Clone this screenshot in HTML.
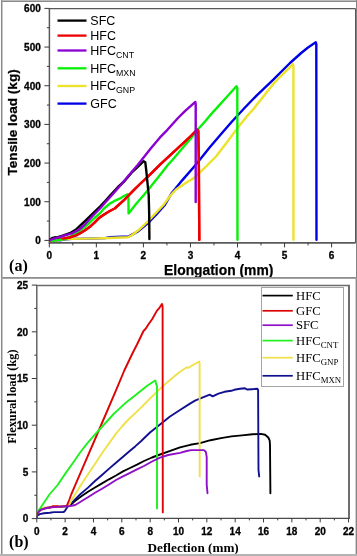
<!DOCTYPE html>
<html><head><meta charset="utf-8"><title>Tensile and flexural load curves</title>
<style>
html,body{margin:0;padding:0;background:#fff;width:357px;height:556px;overflow:hidden;}
svg{display:block;will-change:transform;}

</style></head><body>
<svg width="357" height="556" viewBox="0 0 357 556">
<defs><clipPath id="clipT"><rect x="49.4" y="0.0" width="306.1" height="242.4"/></clipPath><clipPath id="clipB"><rect x="36.8" y="285.4" width="312.2" height="233.0"/></clipPath></defs>
<rect x="0" y="0" width="357" height="556" fill="#fff"/>
<line x1="49.40" y1="8.60" x2="49.40" y2="242.90" stroke="#5a5a5a" stroke-width="1.5"/>
<line x1="48.70" y1="8.60" x2="355.50" y2="8.60" stroke="#5a5a5a" stroke-width="1.4"/>
<line x1="48.70" y1="242.90" x2="355.50" y2="242.90" stroke="#5a5a5a" stroke-width="1.6"/>
<line x1="355.50" y1="8.60" x2="355.50" y2="242.90" stroke="#555" stroke-width="1.0"/>
<line x1="44.40" y1="240.40" x2="49.40" y2="240.40" stroke="#3a3a3a" stroke-width="1"/>
<text x="40.80" y="244.40" font-family='"Liberation Sans", sans-serif' font-size="10" font-weight="bold" text-anchor="end" fill="#000" stroke="#000" stroke-width="0.3">0</text>
<line x1="46.90" y1="221.07" x2="49.40" y2="221.07" stroke="#3a3a3a" stroke-width="1"/>
<line x1="44.40" y1="201.73" x2="49.40" y2="201.73" stroke="#3a3a3a" stroke-width="1"/>
<text x="40.80" y="205.73" font-family='"Liberation Sans", sans-serif' font-size="10" font-weight="bold" text-anchor="end" fill="#000" stroke="#000" stroke-width="0.3">100</text>
<line x1="46.90" y1="182.40" x2="49.40" y2="182.40" stroke="#3a3a3a" stroke-width="1"/>
<line x1="44.40" y1="163.07" x2="49.40" y2="163.07" stroke="#3a3a3a" stroke-width="1"/>
<text x="40.80" y="167.07" font-family='"Liberation Sans", sans-serif' font-size="10" font-weight="bold" text-anchor="end" fill="#000" stroke="#000" stroke-width="0.3">200</text>
<line x1="46.90" y1="143.73" x2="49.40" y2="143.73" stroke="#3a3a3a" stroke-width="1"/>
<line x1="44.40" y1="124.40" x2="49.40" y2="124.40" stroke="#3a3a3a" stroke-width="1"/>
<text x="40.80" y="128.40" font-family='"Liberation Sans", sans-serif' font-size="10" font-weight="bold" text-anchor="end" fill="#000" stroke="#000" stroke-width="0.3">300</text>
<line x1="46.90" y1="105.07" x2="49.40" y2="105.07" stroke="#3a3a3a" stroke-width="1"/>
<line x1="44.40" y1="85.73" x2="49.40" y2="85.73" stroke="#3a3a3a" stroke-width="1"/>
<text x="40.80" y="89.73" font-family='"Liberation Sans", sans-serif' font-size="10" font-weight="bold" text-anchor="end" fill="#000" stroke="#000" stroke-width="0.3">400</text>
<line x1="46.90" y1="66.40" x2="49.40" y2="66.40" stroke="#3a3a3a" stroke-width="1"/>
<line x1="44.40" y1="47.06" x2="49.40" y2="47.06" stroke="#3a3a3a" stroke-width="1"/>
<text x="40.80" y="51.06" font-family='"Liberation Sans", sans-serif' font-size="10" font-weight="bold" text-anchor="end" fill="#000" stroke="#000" stroke-width="0.3">500</text>
<line x1="46.90" y1="27.73" x2="49.40" y2="27.73" stroke="#3a3a3a" stroke-width="1"/>
<line x1="44.40" y1="8.40" x2="49.40" y2="8.40" stroke="#3a3a3a" stroke-width="1"/>
<text x="40.80" y="12.40" font-family='"Liberation Sans", sans-serif' font-size="10" font-weight="bold" text-anchor="end" fill="#000" stroke="#000" stroke-width="0.3">600</text>
<line x1="49.30" y1="242.90" x2="49.30" y2="247.40" stroke="#3a3a3a" stroke-width="1"/>
<text x="49.30" y="258.60" font-family='"Liberation Sans", sans-serif' font-size="10" font-weight="bold" text-anchor="middle" fill="#000" stroke="#000" stroke-width="0.3">0</text>
<line x1="72.82" y1="242.90" x2="72.82" y2="245.40" stroke="#3a3a3a" stroke-width="1"/>
<line x1="96.35" y1="242.90" x2="96.35" y2="247.40" stroke="#3a3a3a" stroke-width="1"/>
<text x="96.35" y="258.60" font-family='"Liberation Sans", sans-serif' font-size="10" font-weight="bold" text-anchor="middle" fill="#000" stroke="#000" stroke-width="0.3">1</text>
<line x1="119.87" y1="242.90" x2="119.87" y2="245.40" stroke="#3a3a3a" stroke-width="1"/>
<line x1="143.40" y1="242.90" x2="143.40" y2="247.40" stroke="#3a3a3a" stroke-width="1"/>
<text x="143.40" y="258.60" font-family='"Liberation Sans", sans-serif' font-size="10" font-weight="bold" text-anchor="middle" fill="#000" stroke="#000" stroke-width="0.3">2</text>
<line x1="166.93" y1="242.90" x2="166.93" y2="245.40" stroke="#3a3a3a" stroke-width="1"/>
<line x1="190.45" y1="242.90" x2="190.45" y2="247.40" stroke="#3a3a3a" stroke-width="1"/>
<text x="190.45" y="258.60" font-family='"Liberation Sans", sans-serif' font-size="10" font-weight="bold" text-anchor="middle" fill="#000" stroke="#000" stroke-width="0.3">3</text>
<line x1="213.97" y1="242.90" x2="213.97" y2="245.40" stroke="#3a3a3a" stroke-width="1"/>
<line x1="237.50" y1="242.90" x2="237.50" y2="247.40" stroke="#3a3a3a" stroke-width="1"/>
<text x="237.50" y="258.60" font-family='"Liberation Sans", sans-serif' font-size="10" font-weight="bold" text-anchor="middle" fill="#000" stroke="#000" stroke-width="0.3">4</text>
<line x1="261.02" y1="242.90" x2="261.02" y2="245.40" stroke="#3a3a3a" stroke-width="1"/>
<line x1="284.55" y1="242.90" x2="284.55" y2="247.40" stroke="#3a3a3a" stroke-width="1"/>
<text x="284.55" y="258.60" font-family='"Liberation Sans", sans-serif' font-size="10" font-weight="bold" text-anchor="middle" fill="#000" stroke="#000" stroke-width="0.3">5</text>
<line x1="308.07" y1="242.90" x2="308.07" y2="245.40" stroke="#3a3a3a" stroke-width="1"/>
<line x1="331.60" y1="242.90" x2="331.60" y2="247.40" stroke="#3a3a3a" stroke-width="1"/>
<text x="331.60" y="258.60" font-family='"Liberation Sans", sans-serif' font-size="10" font-weight="bold" text-anchor="middle" fill="#000" stroke="#000" stroke-width="0.3">6</text>
<text x="0.00" y="0.00" font-family='"Liberation Sans", sans-serif' font-size="13.6" font-weight="bold" text-anchor="middle" fill="#000" stroke="#000" stroke-width="0.25" transform="translate(16.6,122.4) rotate(-90)">Tensile load (kg)</text>
<text x="218.70" y="274.50" font-family='"Liberation Sans", sans-serif' font-size="13.85" font-weight="bold" text-anchor="middle" fill="#000" stroke="#000" stroke-width="0.25">Elongation (mm)</text>
<text x="9.10" y="270.80" font-family='"Liberation Serif", serif' font-size="16" font-weight="bold" text-anchor="start" fill="#000">(a)</text>
<line x1="57.50" y1="20.60" x2="86.50" y2="20.60" stroke="#000000" stroke-width="2.3"/>
<text x="90.30" y="25.10" font-family='"Liberation Sans", sans-serif' font-size="12.5" font-weight="normal" text-anchor="start" fill="#000">SFC</text>
<line x1="57.50" y1="35.60" x2="86.50" y2="35.60" stroke="#ee0000" stroke-width="2.3"/>
<text x="90.30" y="39.70" font-family='"Liberation Sans", sans-serif' font-size="12.5" font-weight="normal" text-anchor="start" fill="#000">HFC</text>
<line x1="57.50" y1="50.50" x2="86.50" y2="50.50" stroke="#8c00d2" stroke-width="2.3"/>
<text x="90.3" y="55.4" font-family='"Liberation Sans", sans-serif' font-size="12.5">HFC<tspan font-size="8.8" dy="2.8">CNT</tspan></text>
<line x1="57.50" y1="68.30" x2="86.50" y2="68.30" stroke="#08f008" stroke-width="2.3"/>
<text x="90.3" y="72.7" font-family='"Liberation Sans", sans-serif' font-size="12.5">HFC<tspan font-size="8.8" dy="2.8">MXN</tspan></text>
<line x1="57.50" y1="86.00" x2="86.50" y2="86.00" stroke="#ece22a" stroke-width="2.3"/>
<text x="90.3" y="90.4" font-family='"Liberation Sans", sans-serif' font-size="12.5">HFC<tspan font-size="8.8" dy="2.8">GNP</tspan></text>
<line x1="57.50" y1="103.60" x2="86.50" y2="103.60" stroke="#0000e6" stroke-width="2.3"/>
<text x="90.30" y="108.10" font-family='"Liberation Sans", sans-serif' font-size="12.5" font-weight="normal" text-anchor="start" fill="#000">GFC</text>
<g clip-path="url(#clipT)">
<polyline points="49.2,240.6 60.0,240.4 66.0,239.4 72.0,238.9 90.0,238.6 105.0,238.1 110.0,237.2 128.6,236.5 132.0,234.6 138.4,231.2 147.4,223.6 156.4,214.5 165.0,204.6 171.2,193.8 182.4,180.1 193.6,167.2 199.2,160.5 210.0,147.0 222.0,133.0 231.8,121.7 244.5,108.0 256.8,95.3 273.6,79.4 290.0,63.0 301.2,53.0 308.0,47.5 315.8,42.3 316.3,44.0 316.5,239.8" fill="none" stroke="#0000e6" stroke-width="2.4" stroke-linejoin="round" stroke-linecap="round"/>
<polyline points="49.2,240.4 58.0,240.3 64.0,239.4 70.0,238.9 90.0,238.6 110.0,238.0 128.0,237.3 131.7,235.2 138.4,230.3 147.4,221.9 156.4,212.4 163.4,205.0 171.2,194.5 176.0,189.5 182.4,185.2 188.0,181.5 193.6,178.4 199.2,173.1 207.0,165.5 216.0,156.5 226.4,143.0 236.7,129.1 246.5,116.8 254.4,108.0 256.8,104.8 265.0,94.5 273.6,83.6 280.0,77.0 287.0,70.1 292.9,64.2 293.4,66.0 293.5,239.8" fill="none" stroke="#ece22a" stroke-width="2.4" stroke-linejoin="round" stroke-linecap="round"/>
<polyline points="49.2,240.6 55.0,239.8 62.8,238.6 69.3,237.5 76.0,235.4 79.8,233.4 84.7,230.5 89.6,227.1 94.5,222.7 99.4,217.7 104.5,214.2 109.8,211.0 114.7,208.5 124.5,199.7 135.0,188.9 140.0,184.0 150.0,174.6 160.0,164.6 170.0,155.3 180.0,146.1 190.0,136.8 195.0,131.9 197.5,129.5 198.3,131.0 198.8,160.0 199.3,239.8" fill="none" stroke="#ee0000" stroke-width="2.4" stroke-linejoin="round" stroke-linecap="round"/>
<polyline points="51.7,240.8 55.0,240.3 59.2,239.9 63.0,239.4 67.0,238.3 70.0,237.0 74.0,234.6 76.0,233.3 80.2,230.4 84.7,227.0 89.6,222.6 94.5,218.0 100.0,213.2 104.0,208.5 109.8,203.6 114.0,201.2 119.6,198.7 124.0,196.0 127.5,194.3 128.4,196.0 128.6,213.4 136.4,203.5 143.9,195.0 150.0,187.5 160.0,175.1 167.8,165.0 172.4,160.0 180.0,151.0 190.0,139.5 197.8,129.5 205.0,121.5 210.4,115.0 216.2,108.6 227.4,96.3 236.4,86.2 237.3,88.0 237.5,239.8" fill="none" stroke="#08f008" stroke-width="2.4" stroke-linejoin="round" stroke-linecap="round"/>
<polyline points="62.8,238.6 69.3,237.5 76.0,235.4 79.8,233.4 84.7,230.5 89.6,227.1 94.5,222.7 99.4,217.7 104.5,214.2 109.8,211.0 114.7,208.5 124.5,199.7 135.0,188.9 140.0,184.0 150.0,174.6 160.0,164.6 170.0,155.3 180.0,146.1 190.0,136.8 195.0,131.9 197.5,129.5 198.3,131.0 198.8,160.0 199.3,239.8" fill="none" stroke="#ee0000" stroke-width="2.4" stroke-linejoin="round" stroke-linecap="round"/>
<polyline points="49.2,240.0 52.7,237.8 55.0,237.3 57.0,237.5 62.8,235.6 70.4,233.0 76.0,229.5 79.8,225.8 84.7,221.3 89.6,216.6 94.5,211.8 100.0,206.6 105.0,201.3 111.0,194.5 118.0,187.0 124.6,181.0 132.4,171.8 139.1,165.6 143.6,161.2 145.3,162.3 146.4,171.8 147.5,183.0 148.7,195.0 149.2,215.0 149.4,239.0" fill="none" stroke="#000000" stroke-width="2.4" stroke-linejoin="round" stroke-linecap="round"/>
<polyline points="49.4,240.2 55.0,238.4 63.4,235.9 71.8,233.3 78.5,230.0 81.5,227.5 85.0,224.3 89.6,219.2 94.5,214.0 100.0,208.5 105.0,202.8 112.0,195.0 120.6,185.3 128.0,176.3 137.9,164.8 150.7,148.6 160.0,137.4 167.4,129.8 172.6,124.0 178.0,118.0 185.2,110.8 190.3,106.3 195.3,101.9 195.7,104.0 195.7,202.0" fill="none" stroke="#8c00d2" stroke-width="2.4" stroke-linejoin="round" stroke-linecap="round"/>
</g>
<line x1="36.80" y1="285.40" x2="36.80" y2="518.40" stroke="#5a5a5a" stroke-width="1.4"/>
<line x1="36.10" y1="285.40" x2="350.00" y2="285.40" stroke="#6c6c6c" stroke-width="1.5"/>
<line x1="36.10" y1="518.40" x2="350.00" y2="518.40" stroke="#4a4a4a" stroke-width="1.3"/>
<line x1="349.00" y1="285.40" x2="349.00" y2="518.40" stroke="#6e6e6e" stroke-width="2.0"/>
<line x1="31.80" y1="518.60" x2="36.80" y2="518.60" stroke="#3a3a3a" stroke-width="1"/>
<text x="28.20" y="522.40" font-family='"Liberation Sans", sans-serif' font-size="10" font-weight="bold" text-anchor="end" fill="#000" stroke="#000" stroke-width="0.3">0</text>
<line x1="34.30" y1="495.25" x2="36.80" y2="495.25" stroke="#3a3a3a" stroke-width="1"/>
<line x1="31.80" y1="471.90" x2="36.80" y2="471.90" stroke="#3a3a3a" stroke-width="1"/>
<text x="28.20" y="475.70" font-family='"Liberation Sans", sans-serif' font-size="10" font-weight="bold" text-anchor="end" fill="#000" stroke="#000" stroke-width="0.3">5</text>
<line x1="34.30" y1="448.55" x2="36.80" y2="448.55" stroke="#3a3a3a" stroke-width="1"/>
<line x1="31.80" y1="425.20" x2="36.80" y2="425.20" stroke="#3a3a3a" stroke-width="1"/>
<text x="28.20" y="429.00" font-family='"Liberation Sans", sans-serif' font-size="10" font-weight="bold" text-anchor="end" fill="#000" stroke="#000" stroke-width="0.3">10</text>
<line x1="34.30" y1="401.85" x2="36.80" y2="401.85" stroke="#3a3a3a" stroke-width="1"/>
<line x1="31.80" y1="378.50" x2="36.80" y2="378.50" stroke="#3a3a3a" stroke-width="1"/>
<text x="28.20" y="382.30" font-family='"Liberation Sans", sans-serif' font-size="10" font-weight="bold" text-anchor="end" fill="#000" stroke="#000" stroke-width="0.3">15</text>
<line x1="34.30" y1="355.15" x2="36.80" y2="355.15" stroke="#3a3a3a" stroke-width="1"/>
<line x1="31.80" y1="331.80" x2="36.80" y2="331.80" stroke="#3a3a3a" stroke-width="1"/>
<text x="28.20" y="335.60" font-family='"Liberation Sans", sans-serif' font-size="10" font-weight="bold" text-anchor="end" fill="#000" stroke="#000" stroke-width="0.3">20</text>
<line x1="34.30" y1="308.45" x2="36.80" y2="308.45" stroke="#3a3a3a" stroke-width="1"/>
<line x1="31.80" y1="285.10" x2="36.80" y2="285.10" stroke="#3a3a3a" stroke-width="1"/>
<text x="28.20" y="288.90" font-family='"Liberation Sans", sans-serif' font-size="10" font-weight="bold" text-anchor="end" fill="#000" stroke="#000" stroke-width="0.3">25</text>
<line x1="36.80" y1="518.40" x2="36.80" y2="522.40" stroke="#3a3a3a" stroke-width="1"/>
<text x="36.80" y="535.00" font-family='"Liberation Sans", sans-serif' font-size="10" font-weight="bold" text-anchor="middle" fill="#000" stroke="#000" stroke-width="0.3">0</text>
<line x1="50.97" y1="518.40" x2="50.97" y2="520.40" stroke="#3a3a3a" stroke-width="1"/>
<line x1="65.14" y1="518.40" x2="65.14" y2="522.40" stroke="#3a3a3a" stroke-width="1"/>
<text x="65.14" y="535.00" font-family='"Liberation Sans", sans-serif' font-size="10" font-weight="bold" text-anchor="middle" fill="#000" stroke="#000" stroke-width="0.3">2</text>
<line x1="79.31" y1="518.40" x2="79.31" y2="520.40" stroke="#3a3a3a" stroke-width="1"/>
<line x1="93.48" y1="518.40" x2="93.48" y2="522.40" stroke="#3a3a3a" stroke-width="1"/>
<text x="93.48" y="535.00" font-family='"Liberation Sans", sans-serif' font-size="10" font-weight="bold" text-anchor="middle" fill="#000" stroke="#000" stroke-width="0.3">4</text>
<line x1="107.65" y1="518.40" x2="107.65" y2="520.40" stroke="#3a3a3a" stroke-width="1"/>
<line x1="121.82" y1="518.40" x2="121.82" y2="522.40" stroke="#3a3a3a" stroke-width="1"/>
<text x="121.82" y="535.00" font-family='"Liberation Sans", sans-serif' font-size="10" font-weight="bold" text-anchor="middle" fill="#000" stroke="#000" stroke-width="0.3">6</text>
<line x1="135.99" y1="518.40" x2="135.99" y2="520.40" stroke="#3a3a3a" stroke-width="1"/>
<line x1="150.16" y1="518.40" x2="150.16" y2="522.40" stroke="#3a3a3a" stroke-width="1"/>
<text x="150.16" y="535.00" font-family='"Liberation Sans", sans-serif' font-size="10" font-weight="bold" text-anchor="middle" fill="#000" stroke="#000" stroke-width="0.3">8</text>
<line x1="164.33" y1="518.40" x2="164.33" y2="520.40" stroke="#3a3a3a" stroke-width="1"/>
<line x1="178.50" y1="518.40" x2="178.50" y2="522.40" stroke="#3a3a3a" stroke-width="1"/>
<text x="178.50" y="535.00" font-family='"Liberation Sans", sans-serif' font-size="10" font-weight="bold" text-anchor="middle" fill="#000" stroke="#000" stroke-width="0.3">10</text>
<line x1="192.67" y1="518.40" x2="192.67" y2="520.40" stroke="#3a3a3a" stroke-width="1"/>
<line x1="206.84" y1="518.40" x2="206.84" y2="522.40" stroke="#3a3a3a" stroke-width="1"/>
<text x="206.84" y="535.00" font-family='"Liberation Sans", sans-serif' font-size="10" font-weight="bold" text-anchor="middle" fill="#000" stroke="#000" stroke-width="0.3">12</text>
<line x1="221.01" y1="518.40" x2="221.01" y2="520.40" stroke="#3a3a3a" stroke-width="1"/>
<line x1="235.18" y1="518.40" x2="235.18" y2="522.40" stroke="#3a3a3a" stroke-width="1"/>
<text x="235.18" y="535.00" font-family='"Liberation Sans", sans-serif' font-size="10" font-weight="bold" text-anchor="middle" fill="#000" stroke="#000" stroke-width="0.3">14</text>
<line x1="249.35" y1="518.40" x2="249.35" y2="520.40" stroke="#3a3a3a" stroke-width="1"/>
<line x1="263.52" y1="518.40" x2="263.52" y2="522.40" stroke="#3a3a3a" stroke-width="1"/>
<text x="263.52" y="535.00" font-family='"Liberation Sans", sans-serif' font-size="10" font-weight="bold" text-anchor="middle" fill="#000" stroke="#000" stroke-width="0.3">16</text>
<line x1="277.69" y1="518.40" x2="277.69" y2="520.40" stroke="#3a3a3a" stroke-width="1"/>
<line x1="291.86" y1="518.40" x2="291.86" y2="522.40" stroke="#3a3a3a" stroke-width="1"/>
<text x="291.86" y="535.00" font-family='"Liberation Sans", sans-serif' font-size="10" font-weight="bold" text-anchor="middle" fill="#000" stroke="#000" stroke-width="0.3">18</text>
<line x1="306.03" y1="518.40" x2="306.03" y2="520.40" stroke="#3a3a3a" stroke-width="1"/>
<line x1="320.20" y1="518.40" x2="320.20" y2="522.40" stroke="#3a3a3a" stroke-width="1"/>
<text x="320.20" y="535.00" font-family='"Liberation Sans", sans-serif' font-size="10" font-weight="bold" text-anchor="middle" fill="#000" stroke="#000" stroke-width="0.3">20</text>
<line x1="334.37" y1="518.40" x2="334.37" y2="520.40" stroke="#3a3a3a" stroke-width="1"/>
<line x1="348.54" y1="518.40" x2="348.54" y2="522.40" stroke="#3a3a3a" stroke-width="1"/>
<text x="348.54" y="535.00" font-family='"Liberation Sans", sans-serif' font-size="10" font-weight="bold" text-anchor="middle" fill="#000" stroke="#000" stroke-width="0.3">22</text>
<text x="0.00" y="0.00" font-family='"Liberation Serif", serif' font-size="12.3" font-weight="bold" text-anchor="middle" fill="#000" transform="translate(15.9,396.6) rotate(-90)">Flexural load (kg)</text>
<text x="193.20" y="551.70" font-family='"Liberation Serif", serif' font-size="13.2" font-weight="bold" text-anchor="middle" fill="#000">Deflection (mm)</text>
<text x="9.10" y="547.20" font-family='"Liberation Serif", serif' font-size="16" font-weight="bold" text-anchor="start" fill="#000">(b)</text>
<rect x="261.5" y="287.5" width="82" height="99" fill="#fff" stroke="#a4a4a4" stroke-width="1"/>
<line x1="262.50" y1="295.60" x2="292.80" y2="295.60" stroke="#000000" stroke-width="1.7"/>
<text x="296.00" y="299.60" font-family='"Liberation Serif", serif' font-size="12.7" font-weight="normal" text-anchor="start" fill="#000">HFC</text>
<line x1="262.50" y1="310.80" x2="292.80" y2="310.80" stroke="#dc0404" stroke-width="1.7"/>
<text x="296.00" y="314.80" font-family='"Liberation Serif", serif' font-size="12.7" font-weight="normal" text-anchor="start" fill="#000">GFC</text>
<line x1="262.50" y1="325.20" x2="292.80" y2="325.20" stroke="#9010c8" stroke-width="1.7"/>
<text x="296.00" y="329.30" font-family='"Liberation Serif", serif' font-size="12.7" font-weight="normal" text-anchor="start" fill="#000">SFC</text>
<line x1="262.50" y1="340.60" x2="292.80" y2="340.60" stroke="#20f020" stroke-width="1.7"/>
<text x="296" y="345.2" font-family='"Liberation Serif", serif' font-size="12.7">HFC<tspan font-size="8.8" dy="3">CNT</tspan></text>
<line x1="262.50" y1="357.70" x2="292.80" y2="357.70" stroke="#f0e04a" stroke-width="1.7"/>
<text x="296" y="362.3" font-family='"Liberation Serif", serif' font-size="12.7">HFC<tspan font-size="8.8" dy="3">GNP</tspan></text>
<line x1="262.50" y1="375.80" x2="292.80" y2="375.80" stroke="#101090" stroke-width="1.7"/>
<text x="296" y="380.4" font-family='"Liberation Serif", serif' font-size="12.7">HFC<tspan font-size="8.8" dy="3">MXN</tspan></text>
<g clip-path="url(#clipB)">
<polyline points="36.8,517.0 37.4,513.0 40.6,509.6 45.6,508.0 51.5,507.1 58.2,506.7 64.0,506.5 68.0,506.0 69.8,505.6 75.0,501.0 81.0,496.5 88.0,491.8 95.0,487.5 102.0,483.4 109.0,479.3 116.0,475.5 123.0,471.4 130.0,468.0 137.0,464.6 144.0,461.0 152.0,457.5 160.0,454.5 170.2,450.9 180.0,447.3 190.3,444.8 200.0,443.1 210.5,440.2 221.0,438.1 231.5,436.4 242.0,435.4 252.5,434.3 260.9,433.9 265.1,434.7 268.3,437.5 269.7,440.6 270.0,445.0 270.2,470.0 270.4,493.3" fill="none" stroke="#000000" stroke-width="1.9" stroke-linejoin="round" stroke-linecap="round"/>
<polyline points="36.8,516.5 37.5,515.5 39.7,514.1 43.9,513.2 49.8,512.8 54.0,512.1 63.0,512.1 64.5,511.5 68.4,505.5 73.4,501.2 80.0,494.5 88.0,487.6 95.0,481.0 102.0,475.0 110.0,467.9 116.0,462.8 123.0,456.8 130.0,450.8 135.2,446.4 141.2,441.0 150.0,432.5 160.0,424.5 170.0,416.5 180.0,410.0 190.0,403.6 195.0,400.6 204.8,396.7 209.7,394.7 212.6,396.3 218.5,393.7 224.4,391.8 231.3,390.8 234.2,389.8 240.1,388.8 245.0,388.2 247.0,389.5 251.9,389.2 257.4,388.8 258.1,390.0 258.5,470.0 259.2,476.5" fill="none" stroke="#101090" stroke-width="1.9" stroke-linejoin="round" stroke-linecap="round"/>
<polyline points="36.8,515.5 37.6,511.5 39.7,509.4 43.0,508.0 48.0,507.2 56.0,506.8 62.0,506.6 67.0,506.0 69.3,504.5 71.7,500.0 74.4,495.5 80.0,486.5 84.2,480.0 94.3,465.0 103.2,451.5 116.0,433.6 122.0,426.5 128.0,420.0 140.0,408.6 150.0,398.5 162.3,386.6 170.0,380.0 177.7,373.5 183.0,369.8 187.0,367.3 188.5,367.8 193.0,365.0 199.3,361.5 199.6,364.0 199.7,476.4" fill="none" stroke="#f0e04a" stroke-width="1.9" stroke-linejoin="round" stroke-linecap="round"/>
<polyline points="36.8,517.0 37.4,513.0 40.6,509.8 45.6,508.2 50.5,507.3 52.5,506.3 57.5,506.1 59.5,506.8 63.0,506.4 66.8,505.9 69.2,500.0 71.2,494.5 75.2,485.2 81.8,469.9 95.1,439.0 105.0,416.0 116.2,389.9 124.3,370.5 132.4,353.5 137.0,344.5 141.1,336.0 143.5,331.0 145.5,329.0 148.2,324.7 152.1,319.2 156.8,310.9 159.2,308.2 161.9,303.9 162.6,306.0 162.8,512.4" fill="none" stroke="#dc0404" stroke-width="1.9" stroke-linejoin="round" stroke-linecap="round"/>
<polyline points="36.8,517.0 37.0,512.0 39.7,509.0 43.9,502.7 49.8,494.0 57.6,485.0 66.0,472.6 75.0,460.0 80.1,452.5 86.8,443.8 93.5,436.2 98.2,431.0 105.0,423.5 113.6,414.0 124.8,403.6 136.0,394.7 147.2,385.7 154.0,381.2 155.4,380.5 156.1,384.0 157.0,386.0 157.0,508.6" fill="none" stroke="#20f020" stroke-width="1.9" stroke-linejoin="round" stroke-linecap="round"/>
<polyline points="36.8,518.3 37.2,513.2 40.6,509.8 45.6,508.2 51.5,507.3 58.2,506.9 63.0,506.4 68.0,506.3 71.8,505.7 75.2,505.0 79.0,502.7 85.0,499.0 88.0,497.2 95.0,492.8 102.0,488.8 109.0,484.5 116.0,480.0 123.0,476.3 130.0,472.8 137.0,469.4 144.0,466.0 152.0,461.5 160.0,457.6 168.2,455.0 180.0,452.9 186.7,451.0 191.2,450.1 203.5,450.1 205.8,451.8 206.7,456.8 206.7,484.8 207.5,493.2" fill="none" stroke="#9010c8" stroke-width="1.9" stroke-linejoin="round" stroke-linecap="round"/>
</g>
<rect x="0" y="0" width="357" height="1" fill="#bbbbbb"/>
<rect x="0" y="1" width="357" height="1" fill="#8a8a8a"/>
<rect x="0" y="0" width="1" height="556" fill="#fafafa"/>
<rect x="1" y="0" width="1" height="556" fill="#8a8a8a"/>
<rect x="2" y="2" width="1" height="552" fill="#c8c8c8"/>
<rect x="355" y="279" width="1" height="277" fill="#d0d0d0"/>
<rect x="356" y="0" width="1" height="556" fill="#858585"/>
<rect x="0" y="554" width="357" height="2" fill="#b4b4b4"/>
<rect x="1" y="277" width="356" height="1" fill="#8e8e8e"/>
<rect x="1" y="278" width="356" height="1" fill="#a4a4a4"/>
</svg>
</body></html>
